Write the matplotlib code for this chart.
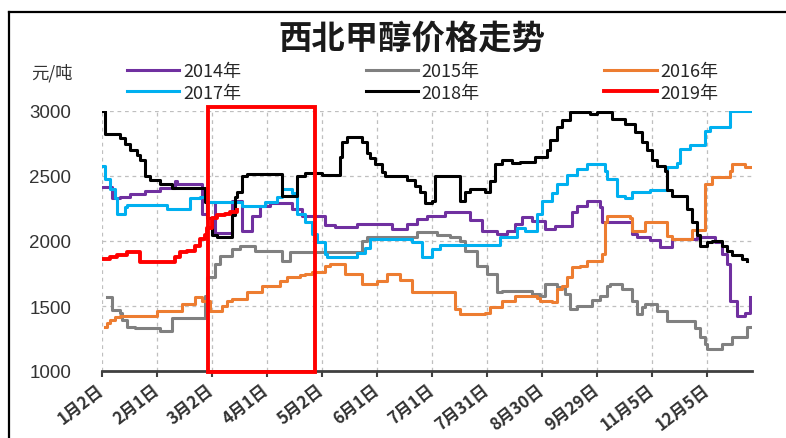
import matplotlib
matplotlib.use('Agg')
import matplotlib.pyplot as plt
from matplotlib.patches import Rectangle
from matplotlib.lines import Line2D

CJK = ['Noto Sans CJK SC', 'DejaVu Sans']
plt.rcParams['font.family'] = CJK

# Trading-day index at which each price level starts (step series)
days14 = [0, 4, 7, 11, 17, 23, 29, 30, 40, 42, 45, 52, 56, 60, 63, 67, 76, 80, 89, 93,
          102, 116, 122, 126, 130, 137, 147, 152, 158, 162, 165, 168, 172, 177, 181, 188, 190, 194, 199, 200,
          211, 212, 214, 219, 223, 228, 238, 245, 248, 250, 251, 254, 257, 259]
vals14 = [2415, 2330, 2340, 2360, 2385, 2410, 2460, 2440, 2210, 2300, 2060, 2310, 2080, 2190, 2270, 2290, 2250, 2190, 2120, 2110,
          2130, 2095, 2130, 2170, 2195, 2220, 2160, 2080, 2055, 2080, 2130, 2185, 2156, 2092, 2117, 2220, 2270, 2310, 2260, 2143,
          2143, 2054, 2030, 2005, 1955, 2015, 2028, 1990, 1900, 1820, 1540, 1425, 1450, 1567]

days15 = [2, 4, 7, 8, 10, 13, 23, 28, 41, 42, 45, 47, 52, 55, 61, 72, 75, 104, 106, 126,
          134, 139, 143, 145, 150, 154, 158, 160, 172, 175, 177, 182, 185, 187, 190, 196, 199, 202, 203, 208,
          212, 214, 216, 217, 222, 226, 237, 239, 241, 242, 248, 252, 258, 259]
vals15 = [1570, 1470, 1450, 1390, 1336, 1330, 1310, 1405, 1580, 1720, 1823, 1887, 1938, 1963, 1925, 1850, 1912, 2002, 2030, 2066,
          2050, 2030, 2000, 1925, 1810, 1750, 1605, 1617, 1590, 1575, 1669, 1650, 1590, 1477, 1500, 1550, 1575, 1656, 1669, 1630,
          1540, 1438, 1490, 1515, 1464, 1387, 1330, 1259, 1210, 1169, 1208, 1259, 1336, 1340]

days16 = [1, 2, 3, 5, 7, 22, 32, 37, 40, 43, 48, 50, 52, 58, 64, 71, 74, 79, 81, 84,
          89, 91, 97, 104, 110, 114, 119, 124, 141, 143, 153, 155, 160, 165, 174, 175, 180, 182, 184, 186,
          188, 191, 194, 200, 201, 202, 211, 212, 217, 226, 228, 236, 241, 244, 251, 252, 257, 260]
vals16 = [1336, 1370, 1390, 1413, 1425, 1464, 1515, 1567, 1540, 1464, 1500, 1541, 1554, 1605, 1656, 1695, 1720, 1735, 1746, 1759,
          1810, 1823, 1750, 1669, 1695, 1746, 1700, 1605, 1477, 1438, 1450, 1490, 1541, 1579, 1560, 1540, 1530, 1630, 1656, 1720,
          1800, 1810, 1848, 1900, 2143, 2194, 2180, 2079, 2143, 2041, 2015, 2085, 2440, 2489, 2540, 2590, 2570, 2570]

days17 = [0, 1, 3, 5, 6, 9, 10, 26, 35, 39, 42, 56, 65, 70, 72, 76, 78, 81, 84, 86,
          89, 90, 102, 105, 107, 124, 128, 132, 135, 159, 166, 169, 174, 176, 180, 182, 186, 190, 194, 201,
          202, 206, 209, 212, 219, 226, 230, 231, 235, 241, 243, 251, 260]
vals17 = [2580, 2480, 2400, 2330, 2210, 2260, 2280, 2250, 2330, 2340, 2300, 2270, 2300, 2335, 2400, 2370, 2210, 2150, 2054, 1990,
          1900, 1874, 1910, 1950, 2015, 1990, 1880, 1940, 1970, 2030, 2100, 2080, 2210, 2310, 2370, 2440, 2510, 2553, 2592, 2540,
          2480, 2350, 2330, 2374, 2390, 2570, 2600, 2710, 2735, 2850, 2880, 3000, 3000]

days18 = [0, 1, 7, 9, 11, 14, 15, 17, 19, 23, 28, 41, 42, 44, 46, 52, 53, 54, 56, 58,
          72, 78, 81, 88, 95, 96, 98, 104, 106, 107, 109, 112, 113, 122, 125, 127, 129, 132, 133, 143,
          145, 147, 153, 155, 157, 160, 164, 167, 173, 178, 179, 182, 184, 187, 195, 198, 204, 209, 213, 216,
          218, 220, 222, 225, 226, 228, 234, 236, 238, 239, 242, 244, 248, 250, 252, 256, 258]
vals18 = [3000, 2820, 2790, 2750, 2700, 2660, 2620, 2500, 2470, 2440, 2410, 2300, 2180, 2050, 2030, 2200, 2340, 2380, 2500, 2515,
          2350, 2500, 2525, 2510, 2650, 2760, 2800, 2760, 2680, 2640, 2590, 2530, 2500, 2470, 2420, 2380, 2290, 2310, 2500, 2310,
          2380, 2400, 2380, 2460, 2590, 2620, 2600, 2610, 2650, 2700, 2780, 2880, 2930, 2990, 2980, 2990, 2940, 2900, 2840, 2760,
          2700, 2620, 2580, 2540, 2390, 2350, 2250, 2150, 2050, 1960, 1990, 2000, 1960, 1920, 1890, 1860, 1850]

days19 = [0, 3, 6, 10, 15, 29, 31, 34, 37, 39, 41, 42, 44, 46, 49, 51, 54]
vals19 = [1862, 1875, 1890, 1912, 1836, 1880, 1915, 1925, 1965, 2015, 2050, 2100, 2180, 2200, 2210, 2225, 2240]

tick_days = [0, 22, 44, 66, 88, 110, 132, 154, 176, 198, 220, 242]
tick_labels = ['1月2日', '2月1日', '3月2日', '4月1日', '5月2日', '6月1日',
               '7月1日', '7月31日', '8月30日', '9月29日', '11月5日', '12月5日']
y_ticks = [1000, 1500, 2000, 2500, 3000]

# highlighted window: 3月2日 .. 5月2日
box_days = [42.4, 85.2]
box_vals = [992, 3030]

series = [
    (days14, vals14, '#7030A0', '2014年', 2.2),
    (days15, vals15, '#808080', '2015年', 2.2),
    (days16, vals16, '#ED7D31', '2016年', 2.2),
    (days17, vals17, '#00B0F0', '2017年', 2.2),
    (days18, vals18, '#000000', '2018年', 2.2),
    (days19, vals19, '#FF0000', '2019年', 2.8),
]

fig = plt.figure(figsize=(7.86, 4.39), dpi=100)
ax = fig.add_axes([102 / 786, 1 - 372 / 439, 650 / 786, 260 / 439])

handles = {}
for d, v, c, lab, lw in series:
    ln, = ax.step(d, v, where='post', color=c, lw=lw, label=lab, zorder=3)
    handles[lab] = ln

ax.set_xlim(0, 260)
ax.set_ylim(1000, 3000)
ax.set_xticks(tick_days)
ax.set_xticklabels(tick_labels, rotation=38, ha='right', va='center',
                   rotation_mode='anchor', fontsize=12, fontweight='bold',
                   color='#333333', family=CJK)
ax.set_yticks(y_ticks)
ax.set_yticklabels([str(t) for t in y_ticks], fontsize=13.5, color='#333333',
                   family=['Liberation Sans', 'DejaVu Sans'])

ax.grid(True, linestyle=(0, (3, 3)), color='#BFBFBF', linewidth=0.9, zorder=0)
ax.set_axisbelow(True)
for side in ('top', 'right', 'left'):
    ax.spines[side].set_visible(False)
ax.spines['bottom'].set_linewidth(2)
ax.spines['bottom'].set_color('#404040')
ax.tick_params(axis='x', direction='out', length=4, width=1.5, color='#404040', pad=8)
ax.tick_params(axis='y', length=0, pad=22)

ax.add_patch(Rectangle((box_days[0], box_vals[0]), box_days[1] - box_days[0],
                       box_vals[1] - box_vals[0], fill=False, edgecolor='#FF0000',
                       linewidth=2.8, clip_on=False, zorder=10))

order = ['2014年', '2017年', '2015年', '2018年', '2016年', '2019年']
leg = fig.legend([handles[k] for k in order], order, ncol=3, loc='upper left',
                 bbox_to_anchor=(127 / 786, 1 - 63 / 439), frameon=False,
                 fontsize=13, handlelength=2.9, handletextpad=0.2,
                 columnspacing=6.9, labelspacing=0.2, borderpad=0, borderaxespad=0)
for t in leg.get_texts():
    t.set_color('#262626')

fig.text(412 / 786, 1 - 39 / 439, '西北甲醇价格走势', ha='center', va='center',
         fontsize=24, fontweight='bold', color='#1a1a1a')
fig.text(52 / 786, 1 - 73 / 439, '元/吨', ha='center', va='center',
         fontsize=12.5, color='#333333')

# outer frame
fig.add_artist(Line2D([9 / 786, 9 / 786], [0, 1 - 12.7 / 439], transform=fig.transFigure,
                      color='black', linewidth=1.6))
fig.add_artist(Line2D([9 / 786, 1], [1 - 12.7 / 439, 1 - 12.7 / 439], transform=fig.transFigure,
                      color='black', linewidth=1.6))

fig.savefig('out.png', dpi=100)
